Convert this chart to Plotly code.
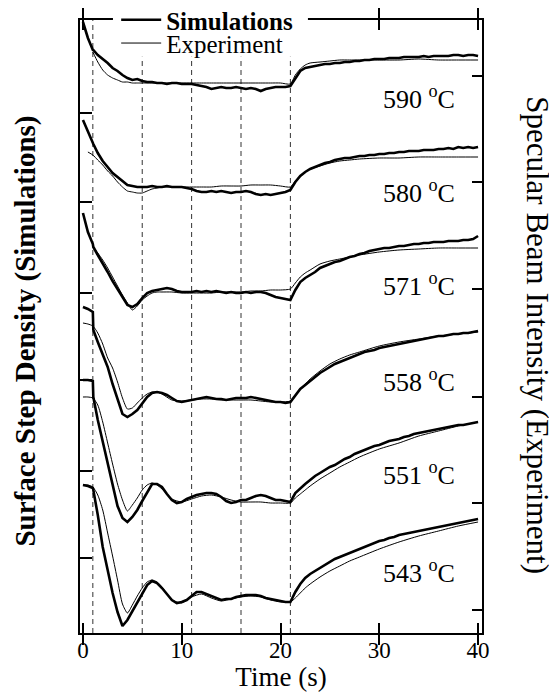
import plotly.graph_objects as go

# ---------------- data (arbitrary stacked units) ----------------
TEMPS = ["590", "580", "571", "558", "551", "543"]

# simulation sampling times (s)
T_SIM = [0, 0.5, 1.0, 1.05] + [1.5 + 0.5 * i for i in range(78)]

SIM_590 = [611, 595, 583, 583,
           578, 574, 570, 565, 562, 558, 555, 553, 554, 552,
           551, 551, 550, 550, 549, 550, 550, 549, 549, 549,
           548, 547, 546, 544, 545, 546, 545, 545, 546, 545,
           544, 545, 544, 542, 544, 545, 546, 546, 546, 547,
           555, 562, 565, 566, 567, 568, 569, 569, 570, 570,
           571, 571, 572, 572, 573, 573, 574, 574, 574, 575,
           575, 575, 576, 576, 576, 576, 577, 576, 577, 577,
           577, 577, 578, 578, 577, 578, 578, 577]
SIM_580 = [513, 501, 490, 489,
           480, 472, 466, 460, 456, 452, 448, 447, 446, 446,
           446, 447, 446, 446, 447, 446, 446, 446, 445, 444,
           442, 441, 441, 442, 441, 442, 441, 440, 441, 441,
           442, 441, 439, 438, 439, 438, 439, 440, 441, 443,
           451, 457, 461, 464, 466, 468, 470, 471, 473, 474,
           475, 475, 476, 477, 477, 478, 478, 479, 479, 480,
           480, 481, 481, 482, 482, 482, 483, 483, 483, 484,
           484, 485, 484, 486, 485, 486, 485, 486]
SIM_571 = [420, 401, 389, 386,
           378, 370, 361, 352, 344, 336, 328, 326, 329, 335,
           340, 342, 343, 344, 345, 344, 342, 341, 341, 341,
           342, 341, 342, 341, 342, 341, 340, 341, 340, 340,
           341, 340, 341, 341, 340, 338, 336, 335, 334, 333,
           343, 351, 355, 358, 361, 365, 367, 369, 371, 372,
           374, 376, 377, 379, 380, 382, 383, 384, 385, 385,
           386, 387, 387, 388, 389, 389, 390, 390, 391, 391,
           391, 392, 392, 392, 393, 393, 394, 397]
SIM_558 = [326, 324, 321, 303,
           291, 279, 266, 249, 233, 219, 216, 219, 223, 230,
           236, 240, 241, 240, 238, 235, 232, 231, 232, 233,
           234, 235, 236, 235, 234, 234, 233, 234, 235, 235,
           235, 236, 235, 234, 233, 232, 231, 231, 230, 231,
           238, 244, 248, 252, 256, 260, 263, 266, 269, 271,
           273, 275, 277, 279, 281, 282, 283, 285, 286, 287,
           288, 289, 290, 291, 292, 293, 294, 295, 296, 297,
           297, 298, 299, 299, 300, 300, 301, 302]
SIM_551 = [253, 253, 252, 236,
           213, 191, 168, 146, 127, 115, 111, 116, 123, 132,
           141, 149, 149, 146, 139, 133, 130, 131, 134, 136,
           138, 139, 140, 140, 139, 136, 132, 130, 131, 133,
           133, 135, 137, 138, 137, 135, 133, 133, 132, 131,
           140, 145, 149, 153, 157, 160, 163, 166, 168, 171,
           174, 176, 179, 181, 183, 185, 187, 188, 190, 192,
           193, 194, 196, 197, 199, 200, 201, 202, 203, 204,
           205, 206, 207, 208, 208, 209, 210, 211]
SIM_543 = [148, 147, 145, 143,
           118, 86, 63, 40, 21, 7, 13, 22, 30, 39,
           48, 52, 50, 45, 39, 33, 30, 31, 33, 37,
           41, 41, 39, 37, 35, 33, 34, 34, 36, 37,
           38, 38, 38, 37, 35, 34, 33, 32, 31, 31,
           41, 49, 55, 59, 62, 65, 68, 71, 74, 76,
           78, 80, 82, 84, 86, 88, 90, 92, 93, 95,
           96, 98, 99, 100, 101, 102, 103, 104, 105, 106,
           107, 108, 109, 110, 111, 112, 113, 114]

# experiment sampling times (s)
T_EXP = [0, 0.5, 1, 1.5, 2, 2.5, 3, 3.5, 4, 4.5, 5, 5.5, 6, 6.5, 7, 7.5, 8,
         9, 10, 11, 12, 13, 14, 15, 16, 17, 18, 19, 20, 21,
         21.5, 22, 22.5, 23, 24, 25, 26, 27, 28, 30, 32, 34, 36, 38, 40]

EXP_590 = [None, None, 581, 571, 563, 558, 555, 553, 551, 551, 550, 550, 550, 550, 550, 550, 550,
           550, 550, 550, 550, 550, 550, 550, 550, 550, 550, 550, 550, 549,
           558, 564, 568, 570, 571, 572, 573, 573, 573, 573, 573, 574, 573, 573, 573]
EXP_580 = [None, 481, 478, 473, 468, 462, 457, 451, 446, 442, 441, 440, 440, 442, 444, 445, 446,
           446, 446, 446, 446, 446, 447, 447, 447, 448, 448, 448, 447, 446,
           452, 457, 461, 464, 467, 470, 472, 473, 474, 475, 475, 476, 476, 476, 476]
EXP_571 = [None, None, 386, 380, 373, 365, 356, 347, 338, 330, 323, 327, 333, 337, 340, 341, 341,
           341, 340, 340, 340, 340, 341, 341, 341, 342, 342, 343, 343, 344,
           350, 356, 360, 363, 369, 372, 374, 376, 378, 381, 383, 384, 385, 385, 385]
EXP_558 = [310, 309, 307, 300, 289, 275, 265, 251, 235, 224, 225, 230, 235, 239, 241, 241, 239,
           233, 232, 233, 234, 234, 233, 233, 233, 233, 232, 231, 231, 232,
           238, 244, 249, 254, 262, 269, 274, 278, 281, 287, 291, 294, 297, 299, 301]
EXP_551 = [236, 236, 235, 228, 211, 190, 169, 149, 133, 122, 128, 135, 143, 148, 150, 148, 144,
           134, 131, 134, 137, 138, 136, 133, 131, 131, 131, 130, 130, 130,
           135, 139, 143, 147, 154, 160, 166, 171, 176, 184, 190, 197, 202, 207, 211]
EXP_543 = [148, 148, 146, 138, 123, 100, 77, 53, 29, 20, 28, 37, 45, 51, 53, 51, 46,
           33, 30, 36, 39, 35, 32, 34, 36, 37, 36, 33, 31, 31,
           35, 40, 45, 49, 56, 62, 67, 72, 76, 84, 91, 97, 102, 107, 111]

SIMS = [SIM_590, SIM_580, SIM_571, SIM_558, SIM_551, SIM_543]
EXPS = [EXP_590, EXP_580, EXP_571, EXP_558, EXP_551, EXP_543]

SWITCH_TIMES = [1, 6, 11, 16, 21]
X_TICKS = [0, 10, 20, 30, 40]
LEFT_TICKS = [75, 162, 253, 340, 431, 520]
RIGHT_TICKS = [23, 130, 236, 344, 451, 557]

# ---------------- figure ----------------
SERIF = "Liberation Serif"
fig = go.Figure()

for i, (temp, sim, exp) in enumerate(zip(TEMPS, SIMS, EXPS)):
    fig.add_trace(go.Scatter(
        x=T_SIM, y=sim, mode="lines", yaxis="y",
        line=dict(color="black", width=2.6),
        name="<b>Simulations</b>", legend="legend", showlegend=(i == 0)))
    fig.add_trace(go.Scatter(
        x=T_EXP, y=exp, mode="lines", yaxis="y2", connectgaps=False,
        line=dict(color="black", width=1, shape="spline", smoothing=0.6),
        name="Experiment", legend="legend2", showlegend=(i == 0)))

# temperature labels, placed below each simulation curve near t = 34 s
label_t = 34
idx = T_SIM.index(label_t)
for temp, sim in zip(TEMPS, SIMS):
    fig.add_annotation(x=label_t, y=sim[idx] - 40, xref="x", yref="y",
                       text=f"{temp} <sup>o</sup>C", showarrow=False,
                       font=dict(family=SERIF, size=26, color="black"))

for t in SWITCH_TIMES:
    fig.add_shape(type="line", x0=t, x1=t, y0=0, y1=1, xref="x", yref="paper",
                  line=dict(color="#333", width=1, dash="5px,4px"), layer="below")

# white patch behind the legend (it hides the frame and dashed guides there)
fig.add_shape(type="rect", xref="paper", yref="paper",
              x0=0.082, x1=0.567, y0=0.94, y1=1.024,
              fillcolor="white", line=dict(width=0), layer="above")

fig.add_annotation(x=-0.135, y=0.493, xref="paper", yref="paper",
                   xanchor="center", yanchor="middle",
                   text="<b>Surface Step Density (Simulations)</b>", textangle=-90,
                   showarrow=False, font=dict(family=SERIF, size=29, color="black"))
fig.add_annotation(x=1.138, y=0.485, xref="paper", yref="paper",
                   xanchor="center", yanchor="middle",
                   text="Specular Beam Intensity (Experiment)", textangle=90,
                   showarrow=False, font=dict(family=SERIF, size=31, color="black"))

legend_common = dict(xanchor="left", yanchor="middle", bgcolor="rgba(0,0,0,0)",
                     borderwidth=0, itemwidth=40,
                     font=dict(family=SERIF, size=25, color="black"))

# page body adds an 8 px offset, so the figure is sized 549 x 684
fig.update_layout(
    width=549, height=684,
    margin=dict(l=72, r=75, t=12, b=59, autoexpand=False),
    paper_bgcolor="white", plot_bgcolor="white",
    font=dict(family=SERIF, color="black"),
    legend=dict(x=0.09, y=1.0, **legend_common),
    legend2=dict(x=0.09, y=0.962, **legend_common),
    xaxis=dict(range=[-0.3, 40.4], tickvals=X_TICKS, ticks="inside", ticklen=10,
               tickwidth=1.5, tickcolor="black", showline=True, linecolor="black",
               linewidth=1.5, mirror="allticks", showgrid=False, zeroline=False,
               automargin=False, ticklabelstandoff=-4,
               tickfont=dict(family=SERIF, size=23, color="black"),
               title=dict(text="Time (s)", standoff=10,
                          font=dict(family=SERIF, size=27, color="black"))),
    yaxis=dict(range=[0, 613], tickvals=LEFT_TICKS, ticks="inside", ticklen=12,
               tickwidth=1.5, tickcolor="black", showticklabels=False,
               showline=True, linecolor="black", linewidth=1.5, automargin=False,
               showgrid=False, zeroline=False),
    yaxis2=dict(range=[0, 613], tickvals=RIGHT_TICKS, ticks="inside", ticklen=10,
                tickwidth=1.5, tickcolor="black", showticklabels=False,
                showline=True, linecolor="black", linewidth=1.5, automargin=False,
                overlaying="y", side="right",
                showgrid=False, zeroline=False),
)

fig.write_html("out.html")
